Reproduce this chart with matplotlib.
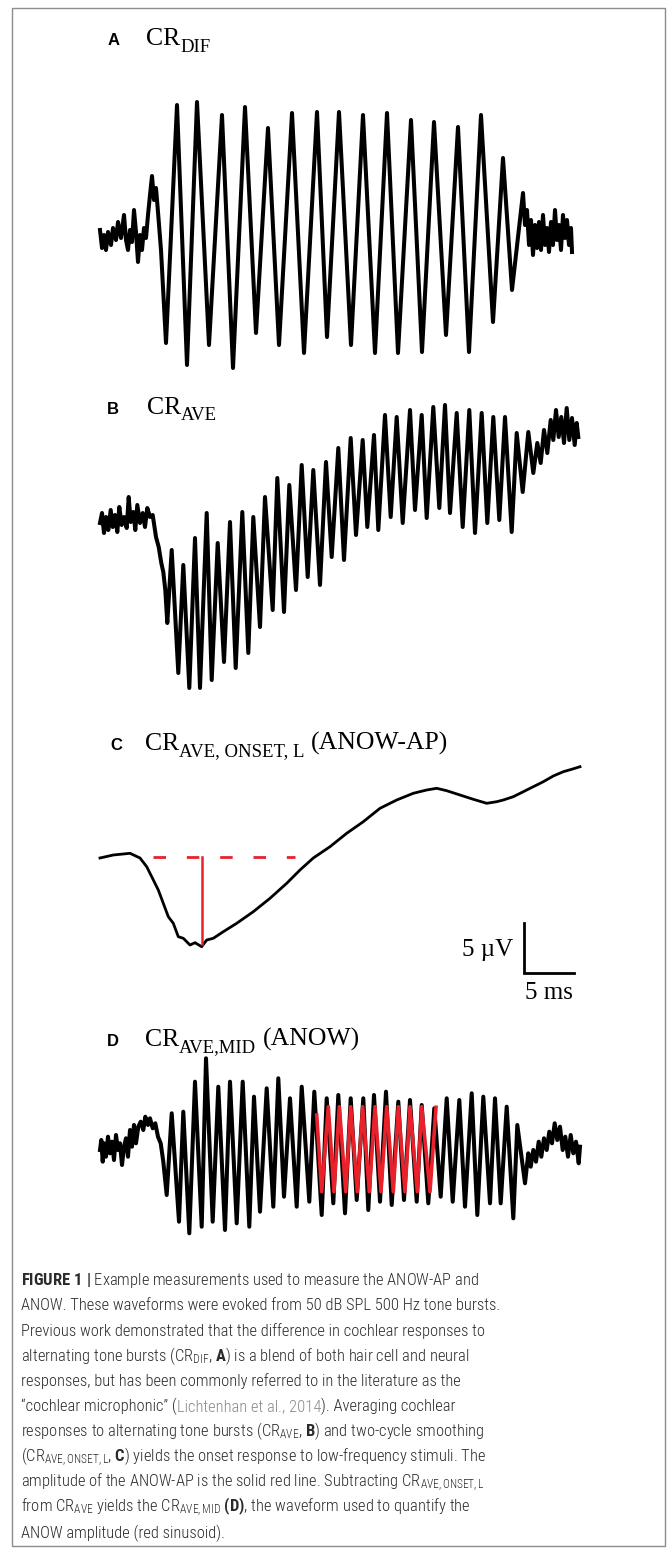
import matplotlib
matplotlib.use("Agg")
import matplotlib.pyplot as plt
from matplotlib import font_manager
from matplotlib.patches import Rectangle

W, H = 667, 1548

# ---------------- data (time in ms, potential in uV) ----------------
# A: CR_DIF
A_T = [0.0, 0.2, 0.4, 0.6, 0.8, 1.1, 1.3, 1.6, 1.8, 2.1, 2.4, 2.6, 2.8, 3.0, 3.2,
       3.4, 3.6, 3.8, 4.0, 4.2, 4.4, 4.6, 4.8, 5.0, 5.2, 5.4, 5.6, 5.8, 6.1,
       6.6, 7.7, 8.7, 9.7, 10.9, 12.2, 13.3, 14.5, 15.6, 16.8, 17.9, 19.2, 20.4,
       21.7, 22.7, 23.9, 25.1, 26.3, 27.5, 28.7, 29.8, 31.1, 32.2, 33.4, 34.6,
       35.8, 36.9, 38.1, 39.3, 40.3, 41.2, 42.3,
       42.5, 42.7, 42.9, 43.1, 43.3, 43.5, 43.7, 43.9, 44.1, 44.3, 44.5, 44.7,
       44.9, 45.1, 45.3, 45.5, 45.7, 45.9, 46.1, 46.3, 46.5, 46.7, 46.9, 47.1, 47.2]
A_V = [0.7, -1.1, 0.2, -1.3, 0.5, -0.8, 0.9, -0.3, 1.5, -0.1, 2.2, -0.3, -1.3, 0.7, -0.5,
       2.7, 0.5, -2.5, 0.2, -1.3, 0.9, -0.1, 2.2, 4.2, 6.1, 3.7, 4.9, 2.5, -1.3,
       -10.6, 13.2, -12.8, 13.5, -10.8, 12.2, -13.1, 13.0, -9.6, 10.9, -10.8, 12.4, -11.6,
       12.5, -10.0, 12.5, -10.8, 12.2, -11.6, 12.4, -11.6, 11.7, -11.5, 11.5, -9.8,
       11.0, -11.5, 12.2, -8.5, 7.9, -5.3, 4.4,
       1.2, 2.7, -0.8, 1.7, -1.8, 1.2, -1.1, 1.5, -1.3, 2.2, -0.8, 0.9,
       -1.5, 1.5, -0.8, 2.7, -0.3, 1.2, -1.3, 2.2, -0.1, 1.7, -0.8, 0.9, -1.5]

# B: CR_AVE
B_T = [0.0, 0.2, 0.4, 0.6, 0.83, 1.07, 1.27, 1.5, 1.73, 1.93, 2.17, 2.4, 2.67, 2.87,
       3.07, 3.33, 3.53, 3.73, 4.0, 4.27, 4.5, 4.73, 5.0, 5.27, 5.6, 5.87, 6.13,
       6.33, 6.53, 6.73,
       7.17, 7.83, 8.33, 8.93, 9.5, 10.0, 10.67, 11.17, 11.77, 12.4, 13.0, 13.57,
       14.23, 14.83, 15.33, 16.0, 16.5, 17.27, 17.73, 18.4, 18.93, 19.6, 20.17,
       20.77, 21.33, 22.0, 22.6, 23.17, 23.83, 24.4, 25.07, 25.6, 26.27, 26.73,
       27.4, 27.83, 28.5, 29.07, 29.67, 30.27, 31.0, 31.5, 32.17, 32.67, 33.33,
       33.93, 34.5, 35.0, 35.67, 36.27, 36.93, 37.5, 38.17, 38.73, 39.33, 39.93,
       40.5, 41.17, 41.67, 42.27, 42.83,
       43.33, 43.73, 44.07, 44.4, 44.73, 45.07, 45.33, 45.6, 45.87, 46.13, 46.4,
       46.67, 46.93, 47.2, 47.47, 47.67, 47.83]
B_V = [0.0, 1.0, -1.0, 0.6, -0.7, 1.3, -0.4, 0.8, -0.9, 1.6, -0.2, 0.6, -0.5, 2.6,
       0.1, 1.1, -0.7, 1.8, 0.0, 1.0, -0.4, 1.5, 0.6, 0.8, -1.4, -2.4, -4.0,
       -4.9, -6.7, -10.0,
       -2.7, -15.0, -4.2, -16.5, -1.5, -16.5, 1.0, -15.7, -2.0, -13.9, 0.1, -14.5,
       1.1, -13.0, 0.6, -10.4, 2.6, -8.7, 4.5, -8.9, 3.8, -6.7, 5.8,
       -5.4, 5.3, -6.2, 6.1, -3.4, 7.5, -3.7, 8.5, -1.2, 8.3, -0.4,
       8.8, -0.7, 10.8, 0.6, 10.6, 0.0, 11.3, 1.3, 10.8, 0.5, 11.6,
       1.5, 11.8, 1.0, 11.0, -0.4, 11.3, -1.0, 11.0, 0.0, 10.6, 0.3,
       10.6, -0.9, 9.0, 3.1, 9.1,
       5.0, 8.0, 6.0, 9.3, 7.0, 10.3, 8.3, 11.3, 8.6, 10.6, 8.0,
       11.5, 8.3, 10.5, 7.8, 10.0, 8.6]

# C: CR_AVE,ONSET,L (smoothed)
C_T = [0.0, 1.33, 3.0, 4.0, 4.67, 5.17, 5.83, 6.33, 6.83, 7.33, 7.83, 8.33, 9.0,
       9.5, 10.17, 10.67, 11.33, 12.33, 13.67, 15.33, 17.0, 18.67, 20.0, 21.33,
       23.0, 24.67, 26.33, 28.0, 29.67, 31.33, 32.67, 33.67, 34.67, 36.0, 37.33,
       38.67, 39.67, 40.33, 41.33, 42.33, 43.33, 44.33, 45.33, 46.33, 47.17, 48.0]
C_V = [0.0, 0.3, 0.47, 0.0, -0.87, -1.87, -3.2, -4.53, -5.87, -6.53, -7.87, -8.03, -8.7,
       -8.47, -8.87, -8.2, -8.03, -7.37, -6.53, -5.37, -4.03, -2.53, -1.2, 0.0,
       1.13, 2.47, 3.63, 4.97, 5.8, 6.47, 6.8, 6.97, 6.73, 6.3, 5.87,
       5.47, 5.63, 5.8, 6.13, 6.63, 7.13, 7.63, 8.2, 8.63, 8.87, 9.13]
AP_BASE = 0.1            # pre-stimulus level (dashed)
AP_BASE_SPAN = [5.3, 19.5]
AP_TIME = 10.2           # time of ANOW-AP trough
AP_TROUGH = -8.6
SCALE_MS = 5
SCALE_UV = 5

# D: CR_AVE,MID
D_T = [0.0, 0.13, 0.27, 0.4, 0.6, 0.8, 1.0, 1.2, 1.4, 1.6, 1.8, 2.0, 2.2, 2.4, 2.6,
       2.8, 3.0, 3.2, 3.4, 3.6, 3.83, 4.07, 4.33, 4.53, 4.8, 5.0, 5.27, 5.53, 5.8,
       6.07, 6.33, 6.67,
       7.17, 7.9, 8.33, 8.93, 9.5, 10.17, 10.6, 11.27, 11.83, 12.5, 13.0, 13.67,
       14.27, 14.93, 15.4, 16.0, 16.67, 17.33, 17.83, 18.4, 19.0, 19.67, 20.17,
       20.93, 21.43, 22.17, 22.67, 23.33, 23.83, 24.5, 25.07, 25.67, 26.33, 26.83,
       27.4, 28.0, 28.6, 29.17, 29.83, 30.4, 31.0, 31.67, 32.17, 32.83, 33.43,
       34.07, 34.67, 35.27, 35.93, 36.5, 37.17, 37.73, 38.33, 39.0, 39.5, 40.07,
       40.67, 41.33, 41.73, 42.5,
       42.83, 43.07, 43.33, 43.6, 43.87, 44.13, 44.4, 44.67, 44.93, 45.2, 45.47,
       45.73, 46.0, 46.27, 46.53, 46.8, 47.07, 47.33, 47.6, 47.87, 48.0]
D_V = [0.0, 1.0, -1.17, 0.67, -0.67, 1.33, -0.33, 0.83, -1.0, 1.5, 0.0, 0.67, -1.5, 0.33, 1.17,
       -0.67, 2.0, 0.33, 2.5, 0.67, 2.33, 2.83, 2.0, 3.33, 2.5, 3.17, 2.17, 2.67, 1.33,
       0.67, -1.17, -4.5,
       3.67, -7.17, 3.83, -8.33, 6.83, -7.67, 9.17, -7.17, 6.33, -8.0, 6.83, -7.33,
       6.83, -7.67, 5.33, -6.17, 6.17, -5.67, 7.17, -4.67, 5.17, -5.67, 6.33,
       -5.17, 5.83, -6.5, 5.17, -5.33, 5.5, -6.33, 5.17, -5.0, 5.17, -6.0,
       5.5, -5.17, 5.83, -5.5, 4.83, -5.0, 5.0, -5.17, 4.5, -5.33, 4.17,
       -4.67, 5.17, -5.17, 5.0, -5.67, 5.67, -6.5, 5.33, -5.33, 5.17, -5.33,
       4.33, -6.83, 2.5, -3.33,
       -0.33, -1.67, 0.0, -1.17, 0.83, -0.67, 1.17, 0.0, 1.83, 0.67, 2.67,
       1.0, 2.33, 0.0, 1.33, -0.67, 1.5, -0.33, 0.83, -1.33, 0.33]
# fitted ANOW sinusoid (red)
ANOW_T = [21.67, 22.17, 22.83, 23.4, 23.93, 24.57, 25.07, 25.73, 26.27, 26.93, 27.5,
          28.1, 28.67, 29.33, 29.83, 30.5, 31.0, 31.73, 32.17, 33.0, 33.6]
ANOW_V = [3.5, -4.17, 4.33, -4.17, 4.33, -4.17, 4.33, -4.17, 4.33, -4.17, 4.33,
          -4.17, 4.33, -4.17, 4.33, -4.17, 4.33, -4.17, 4.33, -4.17, 4.27]

PANEL_LABELS = ["A", "B", "C", "D"]
# (text, is_subscript)
PANEL_TITLES = [[("CR", False), ("DIF", True)],
                [("CR", False), ("AVE", True)],
                [("CR", False), ("AVE, ONSET, L", True), (" (ANOW-AP)", False)],
                [("CR", False), ("AVE,MID", True), (" (ANOW)", False)]]

CAPTION = [
    [(r"$\mathbf{FIGURE\ 1\ |}$ Example measurements used to measure the ANOW-AP and", "k")],
    [("ANOW. These waveforms were evoked from 50 dB SPL 500 Hz tone bursts.", "k")],
    [("Previous work demonstrated that the difference in cochlear responses to", "k")],
    [(r"alternating tone bursts (CR$_{\mathregular{DIF}}$, $\mathbf{A}$) is a blend of both hair cell and neural", "k")],
    [("responses, but has been commonly referred to in the literature as the", "k")],
    [("\u201ccochlear microphonic\u201d (", "k"), ("Lichtenhan et al., 2014", "g"),
     ("). Averaging cochlear", "k")],
    [(r"responses to alternating tone bursts (CR$_{\mathregular{AVE}}$, $\mathbf{B}$) and two-cycle smoothing", "k")],
    [(r"(CR$_{\mathregular{AVE,ONSET,L}}$, $\mathbf{C}$) yields the onset response to low-frequency stimuli. The", "k")],
    [(r"amplitude of the ANOW-AP is the solid red line. Subtracting CR$_{\mathregular{AVE,ONSET,L}}$", "k")],
    [(r"from CR$_{\mathregular{AVE}}$ yields the CR$_{\mathregular{AVE,MID}}$ $\mathbf{(D)}$, the waveform used to quantify the", "k")],
    [("ANOW amplitude (red sinusoid).", "k")],
]

# ---------------- style ----------------
names = {f.name for f in font_manager.fontManager.ttflist}
CAP_FONT = "Liberation Sans"
for cand in ["Liberation Sans Narrow", "DejaVu Sans Condensed", "Roboto Condensed", "Roboto"]:
    if cand in names:
        CAP_FONT = cand
        break
SERIF = "Liberation Serif"
RED = "#e8212b"
INK = "#2b2b2b"

plt.rcParams["mathtext.fontset"] = "custom"
plt.rcParams["mathtext.rm"] = CAP_FONT + ":light"
plt.rcParams["mathtext.it"] = CAP_FONT + ":italic"
plt.rcParams["mathtext.bf"] = CAP_FONT + ":bold"

fig = plt.figure(figsize=(W / 100, H / 100), dpi=100)
renderer = fig.canvas.get_renderer()


def fx(px):
    return px / W


def fy(py):
    return 1 - py / H


def panel_axes(top, bottom, base):
    # 10 px per ms and per uV, t=0 at x=100 px
    ax = fig.add_axes([fx(90), fy(bottom), 500 / W, (bottom - top) / H])
    ax.set_xlim(-1, 49)
    ax.set_ylim((base - bottom) / 10, (base - top) / 10)
    ax.axis("off")
    return ax


axA = panel_axes(90, 385, 237)
axB = panel_axes(390, 705, 523)
axC = panel_axes(762, 1005, 858)
axD = panel_axes(1050, 1245, 1150)

axA.plot(A_T, A_V, color="k", lw=2.9)
axB.plot(B_T, B_V, color="k", lw=2.9)
axC.plot(C_T, C_V, color="k", lw=2.0)
axD.plot(D_T, D_V, color="k", lw=2.9)
axD.plot(ANOW_T, ANOW_V, color=RED, lw=2.6)

axC.plot(AP_BASE_SPAN, [AP_BASE, AP_BASE], color=RED, lw=2.0,
         ls=(0, (4.5, 7.5)), dash_capstyle="butt")
axC.plot([AP_TIME, AP_TIME], [AP_BASE, AP_TROUGH], color=RED, lw=1.8)

# scale bar
sx, sy = 42.4, -11.5
axC.plot([sx, sx, sx + SCALE_MS], [sy + SCALE_UV, sy, sy], color="k", lw=2.0,
         solid_joinstyle="miter")
axC.text(sx - 1.1, sy + 2.3, f"{SCALE_UV} \u00b5V", ha="right", va="center",
         family=SERIF, fontsize=18)
axC.text(sx + SCALE_MS / 2, sy - 2.0, f"{SCALE_MS} ms", ha="center", va="center",
         family=SERIF, fontsize=18)

# panel headings
for lab, parts, (lx, tx, by) in zip(PANEL_LABELS, PANEL_TITLES,
                                    [(108, 146, 45), (107, 147, 414),
                                     (110, 145, 750), (107, 145, 1046)]):
    fig.text(fx(lx), fy(by), lab, family="Liberation Sans", weight="bold",
             fontsize=12, va="baseline")
    x = tx
    for txt, sub in parts:
        size = 13.5 if sub else 18.5
        if txt.startswith(" "):
            x += 0.25 * size * 100 / 72
            txt = txt.strip()
        t = fig.text(fx(x), fy(by + (6.5 if sub else 0)), txt, family=SERIF,
                     fontsize=size, va="baseline")
        x += t.get_window_extent(renderer).width

# caption, size fitted so the second line spans the same width as the original
probe = fig.text(0, 0, CAPTION[1][0][0], family=CAP_FONT, weight="light", fontsize=10)
cap_size = 10 * 478 / probe.get_window_extent(renderer).width
probe.remove()
for i, line in enumerate(CAPTION):
    x = 21
    by = 1285 + i * 25.27
    for txt, col in line:
        t = fig.text(fx(x), fy(by), txt, family=CAP_FONT, weight="light",
                     fontsize=cap_size, va="baseline",
                     color=INK if col == "k" else "#8a8a8a")
        x += t.get_window_extent(renderer).width

# frame
fig.add_artist(Rectangle((fx(12), fy(1546)), (665 - 12) / W, (1546 - 8) / H,
                         transform=fig.transFigure, fill=False,
                         edgecolor="#8c8c8c", lw=1.0))

fig.savefig("out.png", dpi=100)
